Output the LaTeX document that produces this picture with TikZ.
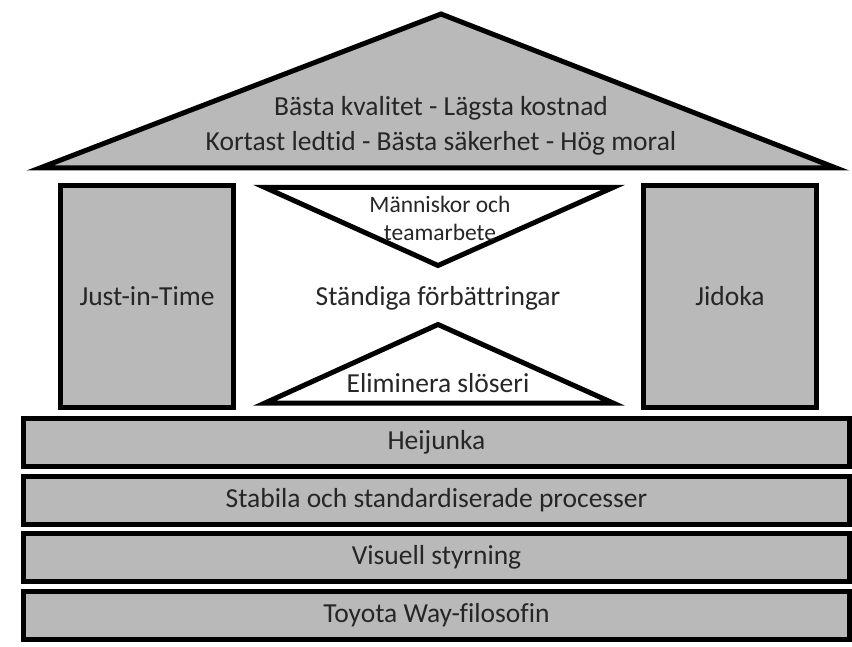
\documentclass[tikz,border=0pt]{standalone}
\usepackage{fontspec}
\setmainfont{Carlito}[Ligatures=NoCommon]
\begin{document}
\begin{tikzpicture}[x=1pt,y=-1pt,
  outl/.style={draw=black,line width=5pt,line join=miter},
  grayfill/.style={fill=gray!55},
  txt/.style={text=black!85},
  band/.style={outl,grayfill,txt,minimum width=826pt,minimum height=48pt,inner sep=0pt,anchor=center,font=\fontsize{27.5}{30}\selectfont},
  pillar/.style={outl,grayfill,txt,minimum width=173pt,minimum height=222pt,inner sep=0pt,font=\fontsize{27.5}{30}\selectfont},
  lbl/.style={txt,font=\fontsize{27.5}{30}\selectfont,inner sep=0pt}]
\useasboundingbox (0,0) rectangle (852,647);
% roof
\coordinate (rtop) at (441,14);
\coordinate (rl) at (40,168);
\coordinate (rr) at (836,168);
\draw[outl,grayfill] (rtop) -- (rr) -- (rl) -- cycle;
\node[lbl] (r1) at (441,108) {Bästa kvalitet - Lägsta kostnad};
\node[lbl] (r2) at (441,143) {Kortast ledtid - Bästa säkerhet - Hög moral};
% pillars
\node[pillar] (jit) at (147,296.5) {Just-in-Time};
\node[pillar] (jid) at (730,296.5) {Jidoka};
% triangles
\coordinate (ut1) at (265,187.5);
\coordinate (ut2) at (613,187.5);
\coordinate (utb) at (438,265.5);
\draw[outl,fill=white] (ut1) -- (ut2) -- (utb) -- cycle;
\coordinate (lt1) at (265,403);
\coordinate (lt2) at (613,403);
\coordinate (ltt) at (438,324.5);
\draw[outl,fill=white] (lt1) -- (lt2) -- (ltt) -- cycle;
\node[lbl,font=\fontsize{23.5}{26}\selectfont] (m1) at (440,204) {Människor och};
\node[lbl,font=\fontsize{23.5}{26}\selectfont] (m2) at (440,232) {teamarbete};
\node[lbl] (st) at (438,298) {Ständiga förbättringar};
\node[lbl] (el) at (438,383) {Eliminera slöseri};
% bands
\node[band] (b1) at (436.5,442) {Heijunka};
\node[band] (b2) at (436.5,500) {Stabila och standardiserade processer};
\node[band] (b3) at (436.5,557.5) {Visuell styrning};
\node[band] (b4) at (436.5,615) {Toyota Way-filosofin};
\end{tikzpicture}
\end{document}
